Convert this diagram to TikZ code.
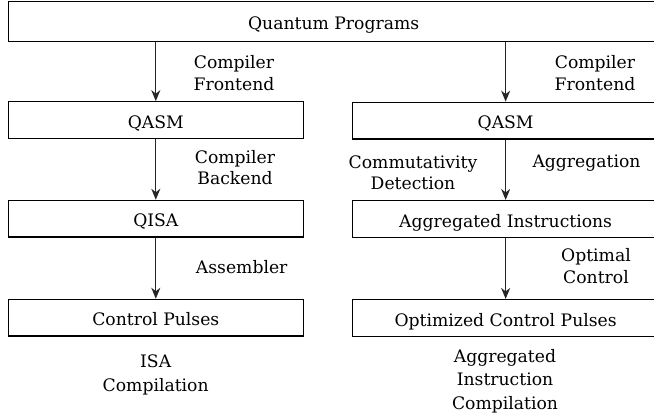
\documentclass[tikz,border=0pt]{standalone}
\usepackage{fontspec}
\setmainfont{DejaVu Serif}
\usetikzlibrary{arrows.meta}
\begin{document}
\begin{tikzpicture}[x=1pt,y=-1pt,
  box/.style={draw=black, line width=1.2pt, minimum height=36.7pt, inner sep=0pt,
    text height=16.5pt, text depth=0pt, font=\fontsize{17.2}{21.5}\selectfont},
  lbl/.style={align=center, inner sep=0pt, font=\fontsize{17.2}{21.5}\selectfont},
  lblwide/.style={align=center, inner sep=0pt, font=\fontsize{17.2}{23.5}\selectfont},
  flow/.style={draw=black!85, line width=1.2pt, -{Stealth[length=11pt,width=9pt,inset=3.5pt]}}]
\useasboundingbox (0,0) rectangle (654,417);
% boxes
\node[box, minimum width=650.7pt, minimum height=40pt] (top) at (333.65,21.7) {Quantum Programs};
\node[box, minimum width=295pt] (qL) at (155.8,120.1) {QASM};
\node[box, minimum width=295pt] (iL) at (155.8,218.7) {QISA};
\node[box, minimum width=295pt] (pL) at (155.8,317.7) {Control Pulses};
\node[box, minimum width=306.7pt] (qR) at (505.65,120.6) {QASM};
\node[box, minimum width=306.7pt] (iR) at (505.65,218.9) {Aggregated Instructions};
\node[box, minimum width=306.7pt] (pR) at (505.65,317.9) {Optimized Control Pulses};
% connectors
\draw[flow] (top.south -| qL) -- (qL.north);
\draw[flow] (qL) -- (iL);
\draw[flow] (iL) -- (pL);
\draw[flow] (top.south -| qR) -- (qR.north);
\draw[flow] (qR) -- (iR);
\draw[flow] (iR) -- (pR);
% labels
\node[lbl] (feL) at (234,73.3) {Compiler\\Frontend};
\node[lbl] (feR) at (595,73.3) {Compiler\\Frontend};
\node[lbl] (be) at (235,167.5) {Compiler\\Backend};
\node[lbl] (asm) at (241.7,266.7) {Assembler};
\node[lbl] (comm) at (413,172.5) {Commutativity\\Detection};
\node[lbl] (agg) at (586.5,163.3) {Aggregation};
\node[lbl] (opt) at (596,266) {Optimal\\Control};
\node[lblwide] (isa) at (155.7,375) {ISA\\Compilation};
\node[lblwide] (aic) at (505,381) {Aggregated\\Instruction\\Compilation};
\end{tikzpicture}
\end{document}
